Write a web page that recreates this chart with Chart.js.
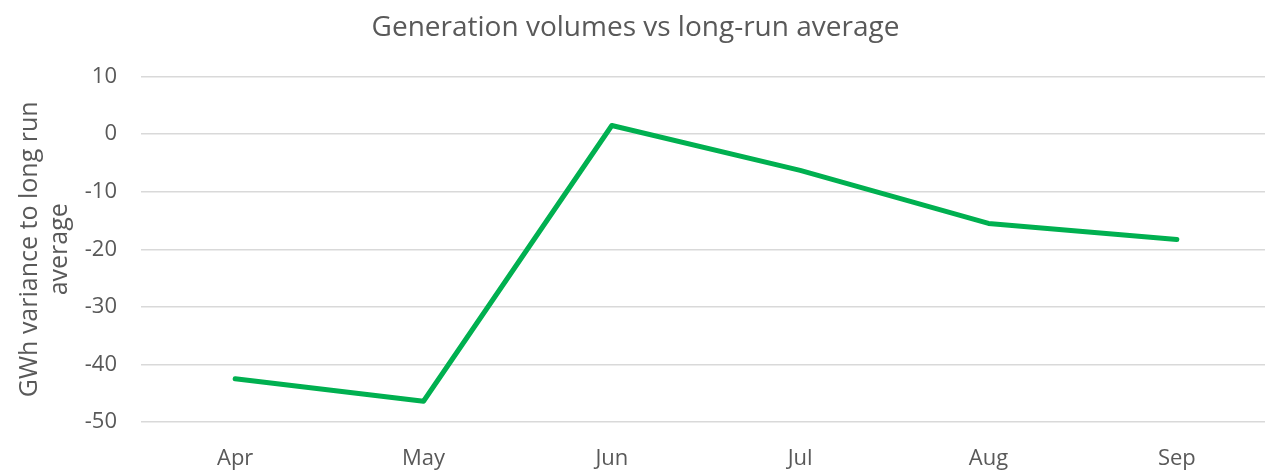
<!DOCTYPE html>
<html>
<head>
<meta charset="utf-8">
<script src="https://cdn.jsdelivr.net/npm/chart.js@4/dist/chart.umd.min.js"></script>
<style>
  html, body { margin: 0; padding: 0; background: #fff; overflow: hidden; }
  #wrap { width: 1271px; height: 471px; position: relative; }
</style>
</head>
<body>
<div id="wrap"><canvas id="genChart"></canvas></div>
<script>
'use strict';

// months on the x axis
var months = ['Apr', 'May', 'Jun', 'Jul', 'Aug', 'Sep'];
// GWh variance to long-run average
var variance = [-42.5, -46.4, 1.5, -6.3, -15.5, -18.3];
// y axis range
var yMin = -50;
var yMax = 10;
var yStep = 10;

var grey = '#595959';
var fontName = '"Open Sans", "Noto Sans", sans-serif';

var theLine = new Chart('genChart', {
  type: 'line',
  data: {
    labels: months,
    datasets: [{
      data: variance,
      borderColor: '#00b050',
      backgroundColor: '#00b050',
      borderWidth: 5,
      pointRadius: 0,
      tension: 0,
      borderCapStyle: 'round',
      borderJoinStyle: 'round'
    }]
  },
  options: {
    responsive: true,
    maintainAspectRatio: false,
    animation: false,
    layout: { padding: 0 },
    plugins: {
      legend: { display: false },
      tooltip: { enabled: false },
      title: {
        display: true,
        text: 'Generation volumes vs long-run average',
        color: grey,
        font: { family: fontName, size: 28, weight: 'normal' },
        padding: { top: 11, bottom: 32 }
      }
    },
    scales: {
      x: {
        offset: true,
        grid: { display: false },
        border: { display: false },
        ticks: { color: grey, font: { family: fontName, size: 22 }, padding: 16 },
        afterFit: function (s) { s.height = 49; }
      },
      y: {
        min: yMin,
        max: yMax,
        grid: { color: '#d9d9d9', lineWidth: 1.5, drawTicks: false },
        border: { display: false },
        ticks: { stepSize: yStep, color: grey, font: { family: fontName, size: 22 }, padding: 24 },
        title: {
          display: true,
          text: ['GWh variance to long run', 'average'],
          color: grey,
          font: { family: fontName, size: 25, weight: 'normal', lineHeight: 1.2 },
          padding: { top: 15, bottom: 0 }
        },
        afterFit: function (s) { s.width = 141; }
      }
    }
  }
});
</script>
</body>
</html>
